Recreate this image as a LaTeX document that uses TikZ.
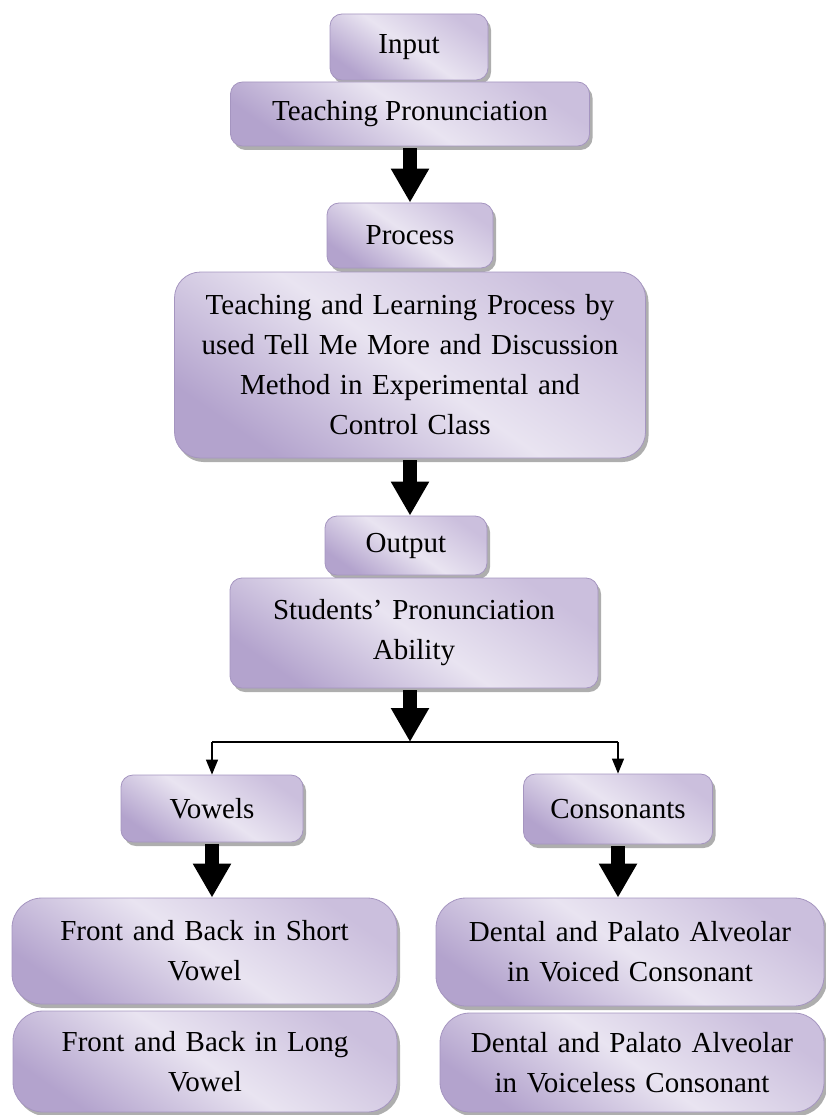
\documentclass[tikz,border=0pt]{standalone}
\usepackage{fontspec}
\setmainfont{Liberation Serif}
\usetikzlibrary{arrows.meta,shadows}
\definecolor{boxlight}{HTML}{E9E4F1}
\definecolor{boxmid}{HTML}{CBBFDD}
\definecolor{boxdark}{HTML}{B3A3CD}
\definecolor{boxedge}{HTML}{A595C0}
\begin{document}
\begin{tikzpicture}[x=1pt,y=-1pt,
  fbox/.style={draw=boxedge, line width=0.8pt, rounded corners=12pt,
    top color=boxmid, bottom color=boxdark, middle color=boxlight, shading angle=-35,
    drop shadow={shadow xshift=3pt, shadow yshift=-4pt, fill=black!45, opacity=0.7},
    inner sep=0pt, align=center, text=black,
    font=\fontsize{29}{40}\selectfont},
  bigbox/.style={fbox, rounded corners=26pt},
  leafbox/.style={fbox, rounded corners=30pt},
  bigarrow/.style={draw=black, line width=14pt, -{Triangle[length=34pt,width=36pt]}, shorten <=2pt},
  smallarrow/.style={draw=black, line width=1.3pt, -{Triangle[length=15pt,width=12pt]}}
]
\useasboundingbox (0,0) rectangle (826,1115);

\node[fbox, minimum width=158pt, minimum height=66pt] (inp) at (409,47) {Input};
\node[fbox, minimum width=359pt, minimum height=64pt] (tp) at (410,114) {Teaching Pronunciation};
\node[fbox, minimum width=166pt, minimum height=65pt] (proc) at (410,235.5) {Process};
\node[bigbox, minimum width=471pt, minimum height=186pt, text width=460pt] (tlp) at (410,365)
  {Teaching and Learning Process by\\ used Tell Me More and Discussion\\ Method in Experimental and\\ Control Class};
\node[fbox, minimum width=162pt, minimum height=59pt] (out) at (406,545.5) {Output};
\node[fbox, minimum width=368pt, minimum height=110pt, text width=360pt] (stu) at (414,633)
  {Students’ Pronunciation\\ Ability};

\coordinate (split) at (410,742);
\node[fbox, minimum width=182pt, minimum height=67pt] (vow) at (212,808.5) {Vowels};
\node[fbox, minimum width=189pt, minimum height=70pt] (con) at (618,809) {Consonants};

\node[leafbox, minimum width=385pt, minimum height=106pt, text width=375pt] (lb1) at (204.5,951)
  {Front and Back in Short\\ Vowel};
\node[leafbox, minimum width=384pt, minimum height=101pt, text width=375pt] (lb2) at (205,1061.5)
  {Front and Back in Long\\ Vowel};
\node[leafbox, minimum width=388pt, minimum height=108pt, text width=375pt] (rb1) at (630,952)
  {Dental and Palato Alveolar\\ in Voiced Consonant};
\node[leafbox, minimum width=384pt, minimum height=99pt, text width=375pt] (rb2) at (632,1062.5)
  {Dental and Palato Alveolar\\ in Voiceless Consonant};

\draw[bigarrow] (tp.south) -- (proc.north);
\draw[bigarrow] (tlp.south) -- (tlp.south |- out.north);
\draw[bigarrow] (stu.south -| split) -- (split);
\draw[line width=1.3pt] (vow.north |- split) -- (con.north |- split);
\draw[smallarrow] (vow.north |- split) -- (vow.north);
\draw[smallarrow] (con.north |- split) -- (con.north);
\draw[bigarrow] (vow.south) -- (vow.south |- lb1.north);
\draw[bigarrow] (con.south) -- (con.south |- rb1.north);
\end{tikzpicture}
\end{document}
